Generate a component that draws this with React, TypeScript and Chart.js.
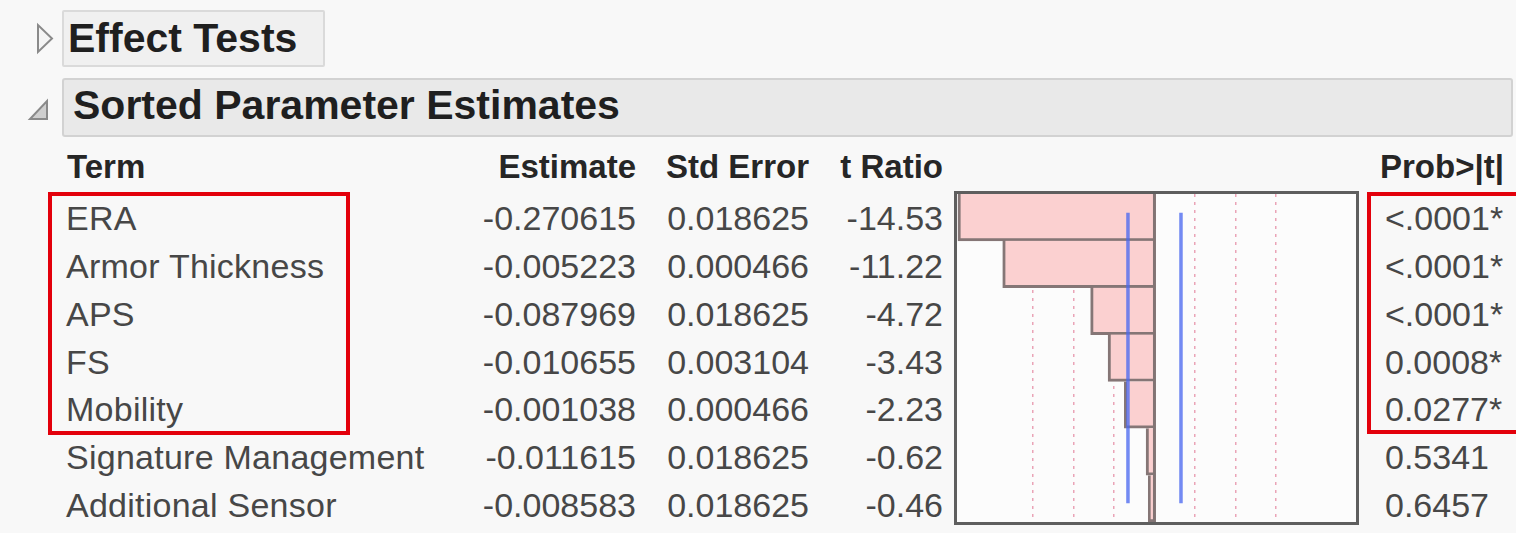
import React, { useEffect, useRef } from "react";
import { Chart, registerables } from "chart.js";

Chart.register(...registerables);

// ---------- data ----------
const terms = [
  "ERA",
  "Armor Thickness",
  "APS",
  "FS",
  "Mobility",
  "Signature Management",
  "Additional Sensor",
];
const estimates = [-0.270615, -0.005223, -0.087969, -0.010655, -0.001038, -0.011615, -0.008583];
const stdErrors = [0.018625, 0.000466, 0.018625, 0.003104, 0.000466, 0.018625, 0.018625];
const tRatios = [-14.53, -11.22, -4.72, -3.43, -2.23, -0.62, -0.46];
const probLabels = ["<.0001*", "<.0001*", "<.0001*", "0.0008*", "0.0277*", "0.5341", "0.6457"];
const headers = ["Term", "Estimate", "Std Error", "t Ratio", "Prob>|t|"];
const sectionTitles = ["Effect Tests", "Sorted Parameter Estimates"];
const tCritical = 1.96;
const axisMin = -14.6;
const axisMax = 14.9;
const gridStep = 3;

// ---------- layout / style ----------
const W = 1516;
const H = 533;
const FONT = '"Liberation Sans", Arial, Helvetica, sans-serif';
const DATA_SIZE = 34;
const HEAD_SIZE = 33;
const TITLE_SIZE = 41;
const ROW_BASE0 = 230;
const ROW_STEP = 47.8;
const HEADER_BASE = 178;

type TxtProps = {
  x: number;
  base: number;
  size: number;
  bold?: boolean;
  color?: string;
  align?: "left" | "right";
  spacing?: number;
  children: React.ReactNode;
};

function Txt({ x, base, size, bold, color, align, spacing, children }: TxtProps) {
  const style: React.CSSProperties = {
    position: "absolute",
    top: base - 0.8465 * size,
    fontSize: size,
    lineHeight: `${size}px`,
    fontWeight: bold ? 700 : 400,
    color: color || "#474747",
    whiteSpace: "nowrap",
    fontFamily: FONT,
    letterSpacing: spacing ? `${spacing}px` : undefined,
  };
  if (align === "right") style.right = W - x;
  else style.left = x;
  return <div style={style}>{children}</div>;
}

function TRatioChart() {
  const ref = useRef<HTMLCanvasElement>(null);
  useEffect(() => {
    if (!ref.current) return;
    const refLines = {
      id: "refLines",
      afterDatasetsDraw(chart: any) {
        const { ctx, chartArea, scales } = chart;
        const xs = scales.x;
        const rowH = chartArea.height / terms.length;
        ctx.save();
        // zero line
        const x0 = xs.getPixelForValue(0);
        ctx.strokeStyle = "#827474";
        ctx.lineWidth = 3;
        ctx.beginPath();
        ctx.moveTo(x0, chartArea.top);
        ctx.lineTo(x0, chartArea.bottom);
        ctx.stroke();
        // significance lines
        ctx.strokeStyle = "rgba(75,105,240,0.78)";
        ctx.lineWidth = 3.5;
        for (const v of [-tCritical, tCritical]) {
          const px = xs.getPixelForValue(v);
          ctx.beginPath();
          ctx.moveTo(px, chartArea.top + 0.4 * rowH);
          ctx.lineTo(px, chartArea.bottom - 0.4 * rowH);
          ctx.stroke();
        }
        ctx.restore();
      },
    };
    const chart = new Chart(ref.current, {
      type: "bar",
      data: {
        labels: terms,
        datasets: [
          {
            data: tRatios,
            backgroundColor: "#fbd0d0",
            borderColor: "#857676",
            borderWidth: { top: 0, right: 0, bottom: 3, left: 3 },
            borderSkipped: false,
            barPercentage: 1,
            categoryPercentage: 1,
          },
        ],
      },
      options: {
        indexAxis: "y",
        animation: false,
        responsive: true,
        maintainAspectRatio: false,
        layout: { padding: 0 },
        plugins: {
          legend: { display: false },
          tooltip: { enabled: false },
        },
        scales: {
          x: {
            type: "linear",
            min: axisMin,
            max: axisMax,
            display: true,
            ticks: { display: false, stepSize: gridStep },
            border: { display: false, dash: [3, 5] },
            grid: {
              drawTicks: false,
              lineWidth: 1.5,
              color: (c: any) => {
                const v = c.tick ? c.tick.value : undefined;
                if (v === undefined || Math.abs(v) < 1e-9) return "transparent";
                const r = v / gridStep;
                return Math.abs(r - Math.round(r)) < 1e-6 ? "rgba(228,135,160,0.75)" : "transparent";
              },
            },
          },
          y: {
            type: "category",
            display: false,
          },
        },
      },
      plugins: [refLines],
    });
    return () => chart.destroy();
  }, []);
  return (
    <div
      style={{
        position: "absolute",
        left: 954,
        top: 191,
        width: 405,
        height: 334,
        border: "3px solid #5e5e5e",
        boxSizing: "border-box",
        background: "#fcfcfc",
      }}
    >
      <div style={{ position: "relative", width: "100%", height: "100%" }}>
        <canvas ref={ref} />
      </div>
    </div>
  );
}

export default function App() {
  const colRight = [0, 636, 809, 943];
  return (
    <div
      style={{
        position: "absolute",
        left: 0,
        top: 0,
        width: W,
        height: H,
        overflow: "hidden",
        background: "#f8f8f8",
        fontFamily: FONT,
      }}
    >
      {/* section toggles */}
      <svg style={{ position: "absolute", left: 0, top: 0 }} width={70} height={140}>
        <polygon points="38,25 38,52 52,38.5" fill="#f4f4f4" stroke="#8a8a8a" strokeWidth={2} />
        <polygon points="30,119 47,119 47,101" fill="#cfcfcf" stroke="#8a8a8a" strokeWidth={2} />
      </svg>

      {/* Effect Tests header (collapsed) */}
      <div
        style={{
          position: "absolute",
          left: 62,
          top: 10,
          width: 263,
          height: 57,
          boxSizing: "border-box",
          border: "2px solid #dadada",
          background: "#f0f0f0",
          borderRadius: 2,
        }}
      />
      <Txt x={68} base={53} size={TITLE_SIZE} bold color="#1f1f1f">
        {sectionTitles[0]}
      </Txt>

      {/* Sorted Parameter Estimates header */}
      <div
        style={{
          position: "absolute",
          left: 62,
          top: 78,
          width: 1451,
          height: 59,
          boxSizing: "border-box",
          border: "2px solid #d2d2d2",
          background: "#e9e9e9",
          borderRadius: 3,
        }}
      />
      <Txt x={73} base={120} size={TITLE_SIZE} bold color="#1f1f1f">
        {sectionTitles[1]}
      </Txt>

      {/* column headers */}
      <Txt x={67} base={HEADER_BASE} size={HEAD_SIZE} bold color="#262626">
        {headers[0]}
      </Txt>
      <Txt x={colRight[1]} base={HEADER_BASE} size={HEAD_SIZE} bold color="#262626" align="right">
        {headers[1]}
      </Txt>
      <Txt x={colRight[2]} base={HEADER_BASE} size={HEAD_SIZE} bold color="#262626" align="right">
        {headers[2]}
      </Txt>
      <Txt x={colRight[3]} base={HEADER_BASE} size={HEAD_SIZE} bold color="#262626" align="right">
        {headers[3]}
      </Txt>
      <Txt x={1380} base={HEADER_BASE} size={HEAD_SIZE} bold color="#262626">
        {headers[4]}
      </Txt>

      {/* rows */}
      {terms.map((t, i) => {
        const base = ROW_BASE0 + i * ROW_STEP;
        return (
          <React.Fragment key={t}>
            <Txt x={66} base={base} size={DATA_SIZE} spacing={0.25}>
              {t}
            </Txt>
            <Txt x={colRight[1]} base={base} size={DATA_SIZE} align="right">
              {estimates[i].toFixed(6)}
            </Txt>
            <Txt x={colRight[2]} base={base} size={DATA_SIZE} align="right">
              {stdErrors[i].toFixed(6)}
            </Txt>
            <Txt x={colRight[3]} base={base} size={DATA_SIZE} align="right">
              {tRatios[i].toFixed(2)}
            </Txt>
            <Txt x={1385} base={base} size={DATA_SIZE}>
              {probLabels[i]}
            </Txt>
          </React.Fragment>
        );
      })}

      <TRatioChart />

      {/* red highlight boxes */}
      <div
        style={{
          position: "absolute",
          left: 48,
          top: 192,
          width: 302,
          height: 243,
          boxSizing: "border-box",
          border: "4px solid #e3000b",
        }}
      />
      <div
        style={{
          position: "absolute",
          left: 1367,
          top: 192,
          width: 170,
          height: 242,
          boxSizing: "border-box",
          border: "4px solid #e3000b",
        }}
      />
    </div>
  );
}
